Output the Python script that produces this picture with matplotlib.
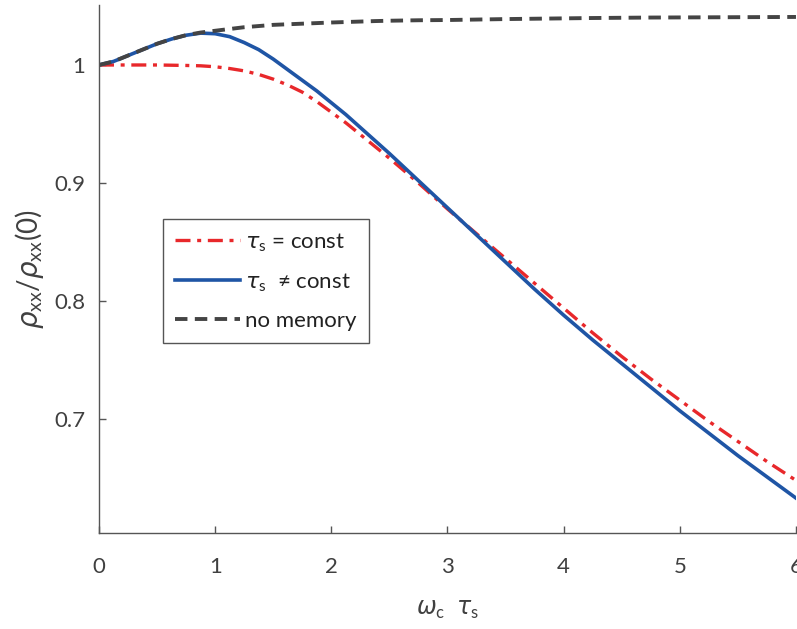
import matplotlib
matplotlib.use("Agg")
import matplotlib.pyplot as plt
import numpy as np

# omega_c * tau_s
x_vals = [0, 0.125, 0.25, 0.375, 0.5, 0.625, 0.75, 0.875, 1.0, 1.125, 1.25, 1.375,
          1.5, 1.625, 1.75, 1.875, 2.0, 2.125, 2.25, 2.375, 2.5, 2.625, 2.75, 2.875,
          3.0, 3.25, 3.5, 3.75, 4.0, 4.25, 4.5, 4.75, 5.0, 5.25, 5.5, 5.75, 6.0]

# tau_s = const
rho_const = [1.000, 1.000, 1.000, 1.000, 1.000, 0.9998, 0.9996, 0.9993, 0.9985, 0.997,
             0.995, 0.992, 0.988, 0.983, 0.977, 0.969, 0.960, 0.951, 0.941, 0.931,
             0.921, 0.9105, 0.900, 0.889, 0.878, 0.857, 0.836, 0.815, 0.794, 0.773,
             0.753, 0.734, 0.716, 0.698, 0.681, 0.664, 0.648]

# tau_s != const
rho_var = [1.000, 1.003, 1.008, 1.013, 1.018, 1.022, 1.0252, 1.0270, 1.0265, 1.024,
           1.019, 1.013, 1.005, 0.996, 0.987, 0.978, 0.968, 0.958, 0.947, 0.936,
           0.925, 0.9135, 0.902, 0.8905, 0.879, 0.856, 0.833, 0.810, 0.788, 0.767,
           0.747, 0.727, 0.707, 0.688, 0.669, 0.651, 0.633]

# no memory
rho_nomem = [1.000, 1.003, 1.008, 1.013, 1.018, 1.022, 1.0253, 1.0275, 1.029, 1.0305,
             1.032, 1.033, 1.034, 1.0345, 1.035, 1.0355, 1.036, 1.0364, 1.0368, 1.0372,
             1.0375, 1.0377, 1.0379, 1.038, 1.0381, 1.0385, 1.0389, 1.0392, 1.0395, 1.0398,
             1.040, 1.0402, 1.0403, 1.0404, 1.0405, 1.0406, 1.0407]

x_ticks = [0, 1, 2, 3, 4, 5, 6]
y_ticks = [0.7, 0.8, 0.9, 1.0]
y_tick_labels = ["0.7", "0.8", "0.9", "1"]

text_color = "#404040"
plt.rcParams["font.family"] = ["Lato", "DejaVu Sans"]
plt.rcParams["mathtext.fontset"] = "custom"
plt.rcParams["mathtext.rm"] = "Lato"
plt.rcParams["mathtext.it"] = "DejaVu Sans:italic"

fig = plt.figure(figsize=(7.97, 6.29), dpi=100)
ax = fig.add_axes([0.1242, 0.1526, 0.8745, 0.8394])

ax.plot(x_vals, rho_const, color="#e8282b", lw=2.4, dashes=(4.5, 2.0, 1.2, 2.0),
        label=r"$\tau_{\rm s}$ = const")
ax.plot(x_vals, rho_var, color="#1f55a5", lw=2.6, label=r"$\tau_{\rm s}$  ≠ const")
ax.plot(x_vals, rho_nomem, color="#444444", lw=2.8, dashes=(3.2, 1.9),
        label="no memory")

ax.set_xlim(0, 6)
ax.set_ylim(0.6034, 1.0508)
ax.set_xticks(x_ticks)
ax.set_yticks(y_ticks)
ax.set_yticklabels(y_tick_labels)

for side in ["top", "right"]:
    ax.spines[side].set_visible(False)
for side in ["left", "bottom"]:
    ax.spines[side].set_color("#555555")
    ax.spines[side].set_linewidth(1.0)

ax.tick_params(direction="in", length=5, width=1.0, color="#555555",
               labelsize=16, labelcolor=text_color)
ax.tick_params(axis="x", pad=17)
ax.tick_params(axis="y", pad=10)

ax.set_xlabel(r"$\omega_{\rm c}$  $\tau_{\rm s}$", fontsize=17, color=text_color, labelpad=16)
ax.set_ylabel(r"$\rho_{\rm xx}/\rho_{\rm xx}(0)$", fontsize=20, color=text_color, labelpad=6)

leg = ax.legend(loc="upper left", bbox_to_anchor=(0.0918, 0.5947), borderaxespad=0,
                fontsize=16, handlelength=2.9, handletextpad=0.25, fancybox=False,
                framealpha=1, edgecolor="#555555", labelspacing=0.78, borderpad=0.55)
for t in leg.get_texts():
    t.set_color("#222222")
leg.get_frame().set_linewidth(1.0)

fig.savefig("out.png", dpi=100)
